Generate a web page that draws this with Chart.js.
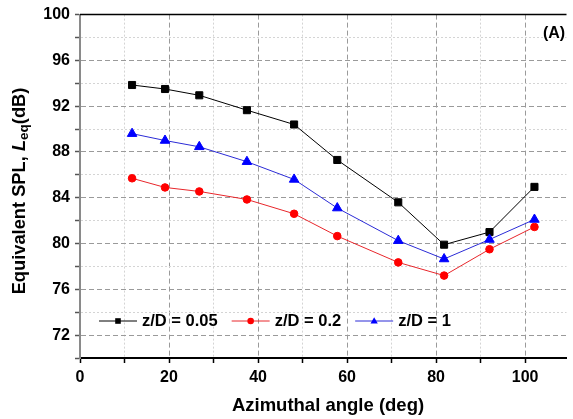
<!DOCTYPE html>
<html>
<head>
<meta charset="utf-8">
<script src="https://cdn.jsdelivr.net/npm/chart.js@4.4.1/dist/chart.umd.min.js"></script>
<style>
  html, body { margin: 0; padding: 0; background: #fff; }
  #wrap { position: relative; width: 573px; height: 419px; }
</style>
</head>
<body>
<div id="wrap"><canvas id="spl-chart"></canvas></div>
<script>
// azimuthal angle (deg) of each measuring point
var angles = [11.7, 19.1, 26.8, 37.5, 48.1, 57.8, 71.5, 81.8, 92.0, 102.1];
// equivalent SPL, Leq (dB)
var leqZ005 = [93.85, 93.5, 92.95, 91.65, 90.4, 87.3, 83.6, 79.9, 81.0, 84.95];
var leqZ02  = [85.7, 84.9, 84.55, 83.85, 82.6, 80.65, 78.35, 77.2, 79.5, 81.45];
var leqZ1   = [89.6, 89.0, 88.45, 87.15, 85.6, 83.1, 80.25, 78.65, 80.35, 82.1];
var seriesLabels = ['z/D = 0.05', 'z/D = 0.2', 'z/D = 1'];
var xTickValues = [0, 10, 20, 30, 40, 50, 60, 70, 80, 90, 100];
var yTickValues = [70, 72, 74, 76, 78, 80, 82, 84, 86, 88, 90, 92, 94, 96, 98, 100];

var FONT = '"Liberation Sans", Arial, Helvetica, sans-serif';

var toPoints = function (ys) {
   return ys.map(function (y, i) { return { x: angles[i], y: y }; });
};

var isMajorX = function (v) { return v % 20 === 0; };
var isMajorY = function (v) { return (v - 72) % 4 === 0; };

var drawMarker = function (ctx, style, x, y, r, color) {
   ctx.save();
   ctx.fillStyle = color;
   ctx.beginPath();
   if (style === 'rect') {
      ctx.rect(x - r, y - r, 2 * r, 2 * r);
   } else if (style === 'circle') {
      ctx.arc(x, y, r, 0, Math.PI * 2);
   } else {
      ctx.moveTo(x, y - r * 1.15);
      ctx.lineTo(x + r * 1.1, y + r * 0.75);
      ctx.lineTo(x - r * 1.1, y + r * 0.75);
      ctx.closePath();
   }
   ctx.fill();
   ctx.restore();
};

// titles, frame line, panel letter and the in-plot legend
var decorations = {
   id: 'decorations',
   afterDraw: function (chart) {
      var ctx = chart.ctx;
      var area = chart.chartArea;
      ctx.save();

      // top frame line
      ctx.strokeStyle = '#000';
      ctx.lineWidth = 1.5;
      ctx.beginPath();
      ctx.moveTo(area.left, area.top);
      ctx.lineTo(area.right, area.top);
      ctx.stroke();

      ctx.fillStyle = '#000';
      ctx.textBaseline = 'middle';

      // panel letter
      ctx.font = 'bold 16px ' + FONT;
      ctx.textAlign = 'center';
      ctx.fillText('(A)', 554, 34);

      // x title
      ctx.font = 'bold 18.5px ' + FONT;
      ctx.fillText('Azimuthal angle (deg)', 328, 406);

      // y title with italic L and subscript eq
      var parts = [
         { t: 'Equivalent SPL, ', f: 'bold 18.3px ' + FONT, dy: 0 },
         { t: 'L', f: 'italic bold 18.3px ' + FONT, dy: 0 },
         { t: 'eq', f: 'bold 13.5px ' + FONT, dy: 4.5 },
         { t: '(dB)', f: 'bold 18.3px ' + FONT, dy: 0 }
      ];
      var total = 0;
      parts.forEach(function (p) { ctx.font = p.f; p.w = ctx.measureText(p.t).width; total += p.w; });
      ctx.translate(20, 191);
      ctx.rotate(-Math.PI / 2);
      ctx.textAlign = 'left';
      var pos = -total / 2;
      parts.forEach(function (p) {
         ctx.font = p.f;
         ctx.fillText(p.t, pos, p.dy);
         pos += p.w;
      });
      ctx.setTransform(1, 0, 0, 1, 0, 0);

      // legend
      var lx = 99, ly = 321;
      ctx.font = 'bold 16.5px ' + FONT;
      ctx.textAlign = 'left';
      chart.data.datasets.forEach(function (ds) {
         ctx.strokeStyle = ds.borderColor;
         ctx.lineWidth = 1;
         ctx.beginPath();
         ctx.moveTo(lx, ly);
         ctx.lineTo(lx + 38, ly);
         ctx.stroke();
         var mr = ds.pointStyle === 'rect' ? 2.8 : 3.3;
         drawMarker(ctx, ds.pointStyle, lx + 19, ly, mr, ds.pointBackgroundColor);
         ctx.fillStyle = '#000';
         ctx.fillText(ds.label, lx + 43, ly);
         lx += 43 + ctx.measureText(ds.label).width + 14;
      });

      ctx.restore();
   }
};

var gridColor = function (major) {
   return function (c) {
      if (!c.tick) return '#999';
      return major(c.tick.value) ? '#9a9a9a' : '#d4d4d4';
   };
};
var gridDash = function (major) {
   return function (c) {
      if (!c.tick) return [];
      return major(c.tick.value) ? [5, 3] : [2, 2];
   };
};

var config = {
   type: 'line',
   data: {
      datasets: [{
         label: seriesLabels[0],
         data: toPoints(leqZ005),
         borderColor: '#000000',
         backgroundColor: '#000000',
         pointBackgroundColor: '#000000',
         pointBorderColor: '#000000',
         pointStyle: 'rect',
         pointRadius: 5,
         borderWidth: 1,
         order: 3
      }, {
         label: seriesLabels[1],
         data: toPoints(leqZ02),
         borderColor: '#e8262b',
         backgroundColor: '#ff0000',
         pointBackgroundColor: '#ff0000',
         pointBorderColor: '#ff0000',
         pointStyle: 'circle',
         pointRadius: 3.8,
         borderWidth: 1,
         order: 2
      }, {
         label: seriesLabels[2],
         data: toPoints(leqZ1),
         borderColor: '#2b2bd6',
         backgroundColor: '#0000ff',
         pointBackgroundColor: '#0000ff',
         pointBorderColor: '#0000ff',
         pointStyle: 'triangle',
         pointRadius: 5.5,
         borderWidth: 1,
         order: 1
      }]
   },
   options: {
      responsive: true,
      maintainAspectRatio: false,
      animation: false,
      layout: { padding: { top: 12, right: 0, left: 0, bottom: 0 } },
      plugins: {
         legend: { display: false },
         tooltip: { enabled: false }
      },
      scales: {
         x: {
            type: 'linear',
            min: 0,
            max: 109.3,
            afterBuildTicks: function (scale) {
               scale.ticks = xTickValues.map(function (v) { return { value: v }; });
            },
            afterFit: function (scale) { scale.height = 61; },
            ticks: {
               autoSkip: false,
               maxRotation: 0,
               padding: 5,
               color: '#000',
               font: { family: FONT, size: 16, weight: 'bold' },
               callback: function (v) { return isMajorX(v) ? v : ''; }
            },
            grid: {
               color: gridColor(isMajorX),
               lineWidth: 1,
               tickLength: 5,
               tickColor: '#000',
               tickWidth: 1.5
            },
            border: { display: true, color: '#000', width: 2, dash: gridDash(isMajorX) }
         },
         y: {
            min: 70,
            max: 100,
            afterBuildTicks: function (scale) {
               scale.ticks = yTickValues.map(function (v) { return { value: v }; });
            },
            afterFit: function (scale) { scale.width = 80; },
            ticks: {
               autoSkip: false,
               padding: 5,
               color: '#000',
               font: { family: FONT, size: 16, weight: 'bold' },
               callback: function (v) { return isMajorY(v) ? v : ''; }
            },
            grid: {
               color: gridColor(isMajorY),
               lineWidth: 1,
               tickLength: 5,
               tickColor: '#555',
               tickWidth: 1.5
            },
            border: { display: true, color: '#8a8a8a', width: 2, dash: gridDash(isMajorY) }
         }
      }
   },
   plugins: [decorations]
};

var ctx = document.getElementById('spl-chart').getContext('2d');
var chart = new Chart(ctx, config);
</script>
</body>
</html>
